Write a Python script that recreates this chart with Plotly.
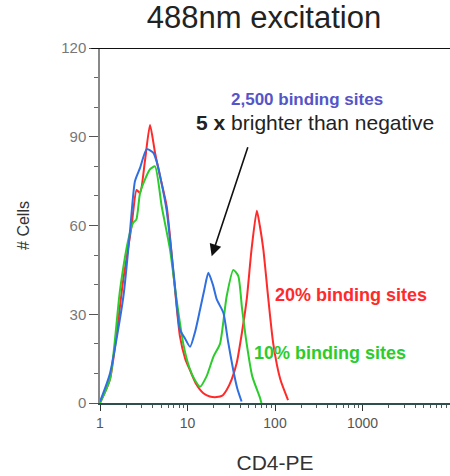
import plotly.graph_objects as go

# ---- data ----
blue_x = [1, 1.3, 1.85, 2.2, 2.51, 2.87, 3.42, 4.07, 4.5, 5.0, 5.78, 7.0, 8.2, 9.3, 10.7, 12.2, 13.9, 15.5, 17.3, 19.5, 21.6, 25.7, 29, 33.4, 37, 41.5]
blue_y = [0.5, 10, 36, 58, 75, 79.5, 85.8, 84.6, 81, 75, 65, 43, 24.7, 22, 19, 24, 31.5, 38, 44, 40, 35, 30.5, 21, 11, 5, 0.5]

red_x = [1, 1.3, 1.85, 2.3, 2.62, 2.87, 3.27, 3.73, 4.25, 4.85, 5.78, 7.0, 8.2, 9.4, 10.7, 12.5, 15.2, 18, 21.6, 25, 28, 32, 36.5, 42, 47.5, 54, 62, 67, 73.5, 84, 95.6, 115, 141]
red_y = [0, 8, 42, 60, 72, 71, 82, 94, 84.7, 76.7, 66.5, 42, 22.5, 15, 11, 6.5, 3.3, 2.2, 2, 2.5, 4.4, 8, 13.5, 24, 35, 52, 65, 60, 52, 35, 20, 8, 1]

green_x = [1, 1.3, 1.69, 2.1, 2.40, 2.6, 2.87, 3.27, 3.73, 4.25, 5.07, 6.3, 7.5, 8.95, 10.5, 12, 13.9, 16.5, 19.8, 23.5, 28, 33.4, 38, 42, 47.5, 55, 67, 70]
green_y = [0, 8, 38, 55, 61, 62, 71, 75.6, 79, 80, 66.5, 52, 35, 20, 12, 8, 5.5, 9, 15.7, 20, 36, 45, 43, 32, 20, 9, 2, 0]

x_tick_vals = [1, 10, 100, 1000]
x_tick_text = ["1", "10", "100", "1000"]
y_tick_vals = [0, 30, 60, 90, 120]
y_tick_text = ["0", "30", "60", "90", "120"]

RED = "#ff2a2a"
GREEN = "#2ccc2c"
BLUE = "#2f6fe0"

fig = go.Figure()
for xs, ys, c in [(red_x, red_y, RED), (green_x, green_y, GREEN), (blue_x, blue_y, BLUE)]:
    fig.add_trace(go.Scatter(x=xs, y=ys, mode="lines", line=dict(color=c, width=2, shape="spline", smoothing=0.6),
                             showlegend=False, hoverinfo="skip"))

minor_x = [m * 10 ** d for d in range(4) for m in range(2, 10)]

fig.update_layout(
    width=450, height=476,
    margin=dict(l=100, r=0, t=48, b=73),
    paper_bgcolor="white", plot_bgcolor="white",
    font=dict(family="Liberation Sans, Arial, sans-serif", color="#222"),
    title=dict(text="488nm excitation", x=264/450, xanchor="center", y=1 - 17/476, yanchor="middle",
               font=dict(size=31, color="#222")),
    xaxis=dict(type="log", range=[0, 4], showgrid=False, zeroline=False,
               showline=True, linecolor="#2f4f4f", linewidth=1.5,
               ticks="outside", ticklen=6, tickcolor="#333", tickwidth=1,
               tickvals=x_tick_vals, ticktext=x_tick_text,
               tickfont=dict(size=14, color="#555"),
               minor=dict(tickvals=minor_x, ticks="outside", ticklen=3, tickcolor="#555"),
               title=dict(text="CD4-PE", font=dict(size=21, color="#333"), standoff=26)),
    yaxis=dict(range=[0, 120], showgrid=False, zeroline=False,
               showline=True, linecolor="#888", linewidth=1.5,
               ticks="outside", ticklen=9, tickcolor="#555", tickwidth=1,
               tickvals=y_tick_vals, ticktext=y_tick_text,
               tickfont=dict(size=15, color="#777"),
               minor=dict(dtick=10, ticks="outside", ticklen=4, tickcolor="#666"),
               title=dict(text="# Cells", font=dict(size=16, color="#333"), standoff=28)),
)

# top border line
fig.add_shape(type="line", xref="paper", yref="y", x0=-0.025, x1=1, y0=120, y1=120,
              line=dict(color="#111", width=2))

fig.add_annotation(x=1.2765, y=49.6, ax=1.695, ay=87, xref="x", yref="y", axref="x", ayref="y",
                   showarrow=True, arrowhead=2, arrowsize=1.5, arrowwidth=1.6, arrowcolor="#111", text="")
fig.add_annotation(x=2.366, y=102.6, xref="x", yref="y", showarrow=False,
                   text="<b>2,500 binding sites</b>", font=dict(size=17, color="#5555c8"))
fig.add_annotation(x=2.457, y=94.8, xref="x", yref="y", showarrow=False,
                   text="<b>5 x</b> brighter than negative", font=dict(size=21, color="#222"))
fig.add_annotation(x=1.977, y=36.6, xref="x", yref="y", showarrow=False, xanchor="left",
                   text="<b>20% binding sites</b>", font=dict(size=18, color=RED))
fig.add_annotation(x=1.737, y=17, xref="x", yref="y", showarrow=False, xanchor="left",
                   text="<b>10% binding sites</b>", font=dict(size=18, color=GREEN))

fig.write_html("out.html")
